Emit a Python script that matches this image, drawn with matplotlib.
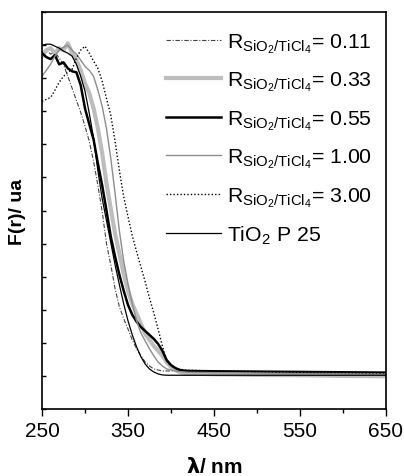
import matplotlib
matplotlib.use("Agg")
import matplotlib.pyplot as plt
import numpy as np

plt.rcParams['font.family'] = ['Liberation Sans', 'DejaVu Sans']
plt.rcParams['mathtext.fontset'] = 'custom'
plt.rcParams['mathtext.rm'] = 'Liberation Sans'
plt.rcParams['mathtext.it'] = 'Liberation Sans'

# wavelength grid (nm) shared by all spectra
wl = [250, 255, 260, 265, 270, 275, 280, 285, 290, 295, 300, 305, 310, 315,
      320, 325, 330, 335, 340, 345, 350, 355, 360, 365, 370, 375, 380, 385,
      390, 395, 400, 405, 410, 415, 420, 450, 500, 550, 600, 650]

# Kubelka-Munk function F(r), arbitrary units
r_011 = [10.76, 10.85, 10.73, 10.79, 10.61, 10.42, 10.06, 9.70, 9.33, 8.97,
         8.55, 8.09, 7.48, 6.76, 5.97, 5.00, 4.36, 3.64, 3.09, 2.73, 2.42,
         2.09, 1.82, 1.61, 1.42, 1.30, 1.21, 1.18, 1.15, 1.15, 1.15, 1.15,
         1.15, 1.14, 1.14, 1.13, 1.12, 1.11, 1.10, 1.09]
r_033 = [10.67, 10.85, 10.91, 10.76, 10.91, 10.85, 11.06, 10.76, 10.55, 10.24,
         9.85, 9.55, 9.09, 8.48, 7.73, 6.82, 6.06, 5.30, 4.70, 4.09, 3.58,
         3.18, 2.88, 2.58, 2.27, 2.09, 1.91, 1.76, 1.61, 1.42, 1.27, 1.18,
         1.12, 1.09, 1.07, 1.05, 1.03, 1.02, 1.00, 0.99]
r_055 = [10.76, 10.64, 10.58, 10.70, 10.42, 10.48, 10.30, 10.21, 10.18, 9.79,
         9.09, 8.61, 8.15, 7.42, 6.76, 6.00, 5.21, 4.61, 4.06, 3.58, 3.15,
         2.85, 2.64, 2.48, 2.36, 2.24, 2.12, 1.97, 1.76, 1.48, 1.33, 1.24,
         1.18, 1.16, 1.15, 1.14, 1.13, 1.12, 1.11, 1.10]
r_100 = [10.06, 10.24, 10.42, 10.67, 10.85, 10.94, 11.00, 10.85, 10.73, 10.55,
         10.36, 10.24, 10.06, 9.64, 9.15, 8.48, 7.58, 6.52, 5.39, 4.48, 3.79,
         3.18, 2.67, 2.30, 2.06, 1.82, 1.61, 1.42, 1.30, 1.21, 1.18, 1.15,
         1.13, 1.12, 1.11, 1.10, 1.09, 1.08, 1.07, 1.06]
r_300 = [9.30, 9.36, 9.42, 9.64, 9.88, 10.06, 10.18, 10.27, 10.61, 10.85,
         10.97, 10.76, 10.52, 10.30, 9.91, 9.39, 8.88, 8.09, 7.21, 6.42, 5.82,
         5.24, 4.76, 4.30, 3.85, 3.36, 2.91, 2.42, 1.91, 1.45, 1.30, 1.24,
         1.21, 1.18, 1.17, 1.15, 1.13, 1.11, 1.10, 1.09]
p25 = [11.00, 11.03, 11.03, 10.97, 10.91, 10.82, 10.76, 10.67, 10.42, 10.06,
       9.61, 8.94, 8.18, 7.21, 6.36, 5.70, 5.03, 4.36, 3.76, 3.18, 2.67,
       2.24, 1.88, 1.58, 1.36, 1.21, 1.12, 1.06, 1.03, 1.02, 1.02, 1.02,
       1.02, 1.02, 1.02, 1.02, 1.02, 1.02, 1.02, 1.02]

ratios = ['0.11', '0.33', '0.55', '1.00', '3.00']
sub = r'$_{\mathrm{SiO_2/TiCl_4}}$'

fig = plt.figure(figsize=(4.04, 4.77), dpi=100)
ax = fig.add_axes([0.104, 0.1405, 0.851, 0.832])

ax.plot(wl, r_011, color='#444444', lw=0.8, ls=(0, (4, 1.5, 1, 1.5)),
        label='R' + sub + '= ' + ratios[0])
ax.plot(wl, r_033, color='#bdbdbd', lw=3.0, label='R' + sub + '= ' + ratios[1])
ax.plot(wl, r_055, color='black', lw=1.8, label='R' + sub + '= ' + ratios[2])
ax.plot(wl, r_100, color='#8c8c8c', lw=1.0, label='R' + sub + '= ' + ratios[3])
ax.plot(wl, r_300, color='black', lw=1.0, ls=(0, (1, 1.5)),
        label='R' + sub + '= ' + ratios[4])
ax.plot(wl, p25, color='black', lw=0.9, label=r'TiO$_2$ P 25')

ax.set_xlim(250, 650)
ax.set_ylim(0, 12)
ax.set_xticks([250, 350, 450, 550, 650])
ax.set_xticks([300, 400, 500, 600], minor=True)
ax.set_yticks(np.arange(0, 13, 1))
ax.set_yticklabels([])
ax.tick_params(axis='x', which='major', direction='out', length=5, width=1,
               labelsize=15, pad=4)
ax.tick_params(axis='x', which='minor', direction='out', length=3, width=1)
ax.tick_params(axis='y', direction='in', length=3, width=1)
for s in ax.spines.values():
    s.set_linewidth(1.2)

ax.set_xlabel(r'$\mathbf{\lambda}$/ nm', fontsize=15, fontweight='bold', labelpad=11)
ax.set_ylabel('F(r)/ ua', fontsize=14, fontweight='bold', labelpad=8)

ax.legend(loc='upper right', bbox_to_anchor=(1.016, 1.0), frameon=False,
          fontsize=15.3, handlelength=2.6, handletextpad=0.3, labelspacing=0.7,
          borderaxespad=0.5)

fig.savefig('out.png', dpi=100)
